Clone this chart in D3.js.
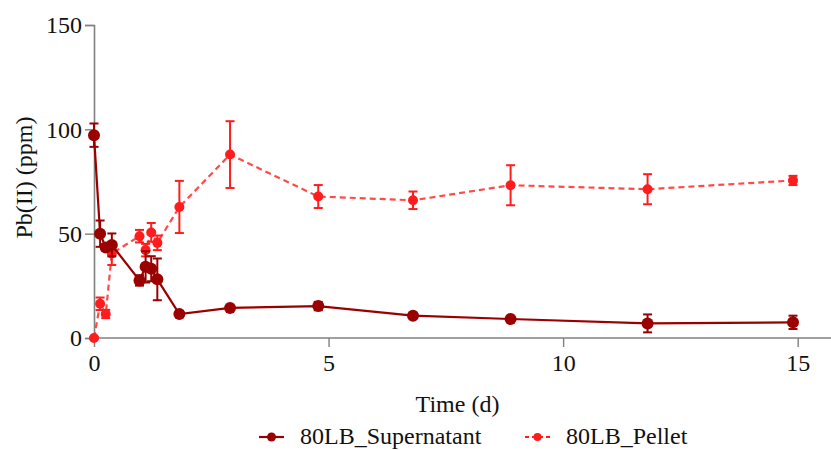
<!DOCTYPE html>
<html>
<head>
<meta charset="utf-8">
<script src="https://cdn.jsdelivr.net/npm/d3@7"></script>
<style>
  html, body { margin:0; padding:0; background:#fff; }
  svg { display:block; }
  svg text { font-family:'Liberation Serif', 'Times New Roman', serif; }
</style>
</head>
<body>
<div id="chart"></div>
<script>
// sampling times (days)
var times = [0, 0.13, 0.25, 0.38, 0.97, 1.1, 1.22, 1.35, 1.82, 2.9, 4.78, 6.8, 8.88, 11.8, 14.9]

// 80LB_Supernatant
var superMean = [97.2, 50.0, 43.4, 44.6, 27.6, 34.1, 33.2, 28.1, 11.5, 14.4, 15.3, 10.7, 9.1, 7.0, 7.5]
var superErr  = [5.6, 6.3, 1.5, 5.5, 2.5, 7.5, 6.0, 10.0, 1.0, 1.0, 2.0, 1.0, 0.8, 4.3, 3.2]

// 80LB_Pellet
var pelletMean = [0, 16.4, 11.5, 40.5, 48.8, 42.1, 50.6, 45.6, 62.8, 87.9, 67.8, 66.0, 73.2, 71.3, 75.5]
var pelletErr  = [0.5, 3.0, 2.0, 5.5, 3.0, 3.0, 4.5, 3.5, 12.5, 16.0, 5.5, 4.2, 9.6, 7.2, 2.2]

var xMajor = [0, 5, 10, 15]
var yTicks = [0, 50, 100, 150]

var W = 831, H = 450
var m = { top:25, right:0, bottom:112, left:94 }
var FONT = 'Liberation Serif, Times New Roman, serif'
var FS = 24

var series = [
  { name:'80LB_Pellet', mean:pelletMean, err:pelletErr, color:'#ff1c1c', line:'#ff4a4a', dash:'6,4', r:5 },
  { name:'80LB_Supernatant', mean:superMean, err:superErr, color:'#9b0000', line:'#9b0000', dash:null, r:6 }
]

var svg = d3.select('#chart').append('svg')
    .attr('width', W)
    .attr('height', H)
    .attr('font-family', FONT)

var x = d3.scaleLinear().domain([0, 15.71]).range([m.left, W - m.right])
var y = d3.scaleLinear().domain([0, 150]).range([H - m.bottom, m.top])

// axes
var axisColor = '#808080'
var gx = svg.append('g').attr('transform', 'translate(0,' + y(0) + ')')
gx.call(d3.axisBottom(x).tickValues(d3.range(0, 16, 1)).tickSize(5).tickFormat(''))
gx.call(d3.axisBottom(x).tickValues(xMajor).tickSize(9).tickPadding(7).tickFormat(d3.format('d')))
gx.attr('font-family', FONT).attr('font-size', FS)
gx.selectAll('.domain').remove()
gx.append('line').attr('x1', x(0)).attr('x2', W).attr('stroke', axisColor).attr('stroke-width', 1.6)
gx.selectAll('.tick line').attr('stroke', axisColor).attr('stroke-width', 1.4)
gx.selectAll('text').attr('fill', '#111')

var gy = svg.append('g').attr('transform', 'translate(' + x(0) + ',0)')
gy.call(d3.axisLeft(y).tickValues(yTicks).tickSize(9).tickPadding(3))
gy.attr('font-family', FONT).attr('font-size', FS)
gy.select('.domain').attr('stroke', axisColor).attr('stroke-width', 1.6)
gy.selectAll('.tick line').attr('stroke', axisColor).attr('stroke-width', 1.4)
gy.selectAll('text').attr('fill', '#111')

// axis titles
svg.append('text')
    .attr('x', (x(0) + W) / 2 - 5).attr('y', 412)
    .attr('text-anchor', 'middle').attr('fill', '#111')
    .attr('font-size', FS)
    .text('Time (d)')

svg.append('text')
    .attr('transform', 'translate(32,' + (y(75) - 4) + ') rotate(-90)')
    .attr('text-anchor', 'middle').attr('fill', '#111')
    .attr('font-size', FS)
    .text('Pb(II) (ppm)')

// series
var line = d3.line().x(d=> x(d.t)).y(d=> y(d.v))

series.forEach(s=> {
    var pts = times.map((t, i)=> ({ t:t, v:s.mean[i], e:s.err[i] }))
    var g = svg.append('g')

    g.append('path')
        .datum(pts)
        .attr('fill', 'none')
        .attr('stroke', s.line)
        .attr('stroke-width', 2.2)
        .attr('stroke-dasharray', s.dash)
        .attr('d', line)

    var eb = g.selectAll('.eb').data(pts).enter().append('g')
    eb.append('line')
        .attr('x1', d=> x(d.t)).attr('x2', d=> x(d.t))
        .attr('y1', d=> y(d.v + d.e)).attr('y2', d=> y(d.v - d.e))
        .attr('stroke', s.color).attr('stroke-width', 2)
    eb.selectAll('.cap').data(d=> [d.v + d.e, d.v - d.e].map(v=> ({ t:d.t, v:v })))
      .enter().append('line')
        .attr('x1', d=> x(d.t) - 4.5).attr('x2', d=> x(d.t) + 4.5)
        .attr('y1', d=> y(d.v)).attr('y2', d=> y(d.v))
        .attr('stroke', s.color).attr('stroke-width', 2)

    g.selectAll('.pt').data(pts).enter().append('circle')
        .attr('cx', d=> x(d.t)).attr('cy', d=> y(d.v))
        .attr('r', s.r)
        .attr('fill', s.color)
})

// legend
var legend = [
  { name:'80LB_Supernatant', color:'#9b0000', dash:null, r:4.5, x0:259 },
  { name:'80LB_Pellet', color:'#ff1c1c', dash:'4,3', r:4, x0:525 }
]
var lg = svg.selectAll('.lg').data(legend).enter().append('g')
    .attr('transform', d=> 'translate(' + d.x0 + ',437)')
lg.append('line')
    .attr('x1', 0).attr('x2', 25)
    .attr('stroke', d=> d.color).attr('stroke-width', 2.2)
    .attr('stroke-dasharray', d=> d.dash)
lg.append('circle').attr('cx', 12.5).attr('r', d=> d.r).attr('fill', d=> d.color)
lg.append('text')
    .attr('x', 41).attr('y', 7)
    .attr('fill', '#111')
    .attr('font-size', FS)
    .text(d=> d.name)
</script>
</body>
</html>
